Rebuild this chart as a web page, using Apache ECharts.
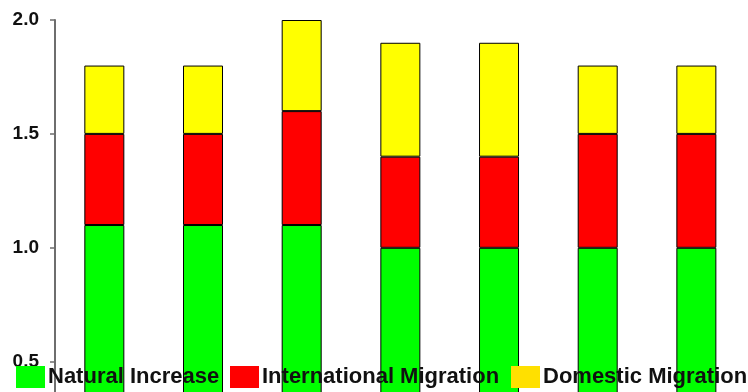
<!DOCTYPE html>
<html>
<head>
<meta charset="utf-8">
<script src="https://cdn.jsdelivr.net/npm/echarts@6/dist/echarts.min.js"></script>
<style>
  html, body { margin: 0; padding: 0; background: #fff; }
  #chart { width: 748px; height: 392px; }
</style>
</head>
<body>
<div id="chart"></div>
<script>
// Components of population growth (percent), stacked per period
const categories = ['P1', 'P2', 'P3', 'P4', 'P5', 'P6', 'P7'];
const naturalIncrease = [1.1, 1.1, 1.1, 1.0, 1.0, 1.0, 1.0];
const internationalMigration = [0.4, 0.4, 0.5, 0.4, 0.4, 0.5, 0.5];
const domesticMigration = [0.3, 0.3, 0.4, 0.5, 0.5, 0.3, 0.3];
const yTicks = [0, 0.5, 1.0, 1.5, 2.0];

const seriesNames = ['Natural Increase', 'International Migration', 'Domestic Migration'];
const barColors = ['#00ff00', '#ff0000', '#ffff00'];
const legendColors = ['#00ff00', '#ff0000', '#ffe000'];
const legendLeft = [16, 230, 511];

const chart = echarts.init(document.getElementById('chart'), null, { renderer: 'canvas' });

const values = [naturalIncrease, internationalMigration, domesticMigration];

chart.setOption({
  animation: false,
  backgroundColor: '#ffffff',
  // the plot runs below the visible area; only the upper part is in view
  grid: {
    left: 55, top: 20, width: 690.7, height: 455.6,
    containLabel: false, outerBoundsMode: 'none'
  },
  legend: seriesNames.map((name, i) => ({
    data: [{ name: name, itemStyle: { color: legendColors[i], borderWidth: 0 } }],
    left: legendLeft[i],
    top: 366,
    padding: 0,
    itemWidth: 29,
    itemHeight: 22,
    icon: 'rect',
    selectedMode: false,
    textStyle: {
      fontFamily: 'Liberation Sans',
      fontWeight: 'bold',
      fontSize: 22,
      color: '#111111',
      padding: [0, 0, 0, -2]
    }
  })),
  xAxis: {
    type: 'category',
    data: categories,
    axisLine: { show: false },
    axisTick: { show: false },
    axisLabel: { show: false }
  },
  yAxis: {
    type: 'value',
    min: yTicks[0],
    max: yTicks[yTicks.length - 1],
    interval: 0.5,
    splitLine: { show: false },
    axisLine: { show: true, lineStyle: { color: '#6e6e6e', width: 2 } },
    axisTick: { show: true, length: 5, lineStyle: { color: '#6e6e6e', width: 1.5 } },
    axisLabel: {
      margin: 16,
      fontFamily: 'Liberation Sans',
      fontWeight: 'bold',
      fontSize: 19,
      color: '#111111',
      formatter: v => v.toFixed(1)
    }
  },
  series: seriesNames.map((name, i) => ({
    name: name,
    type: 'bar',
    stack: 'growth',
    barWidth: 40,
    data: values[i],
    itemStyle: { color: barColors[i], borderColor: '#000000', borderWidth: 1 }
  }))
});
</script>
</body>
</html>
